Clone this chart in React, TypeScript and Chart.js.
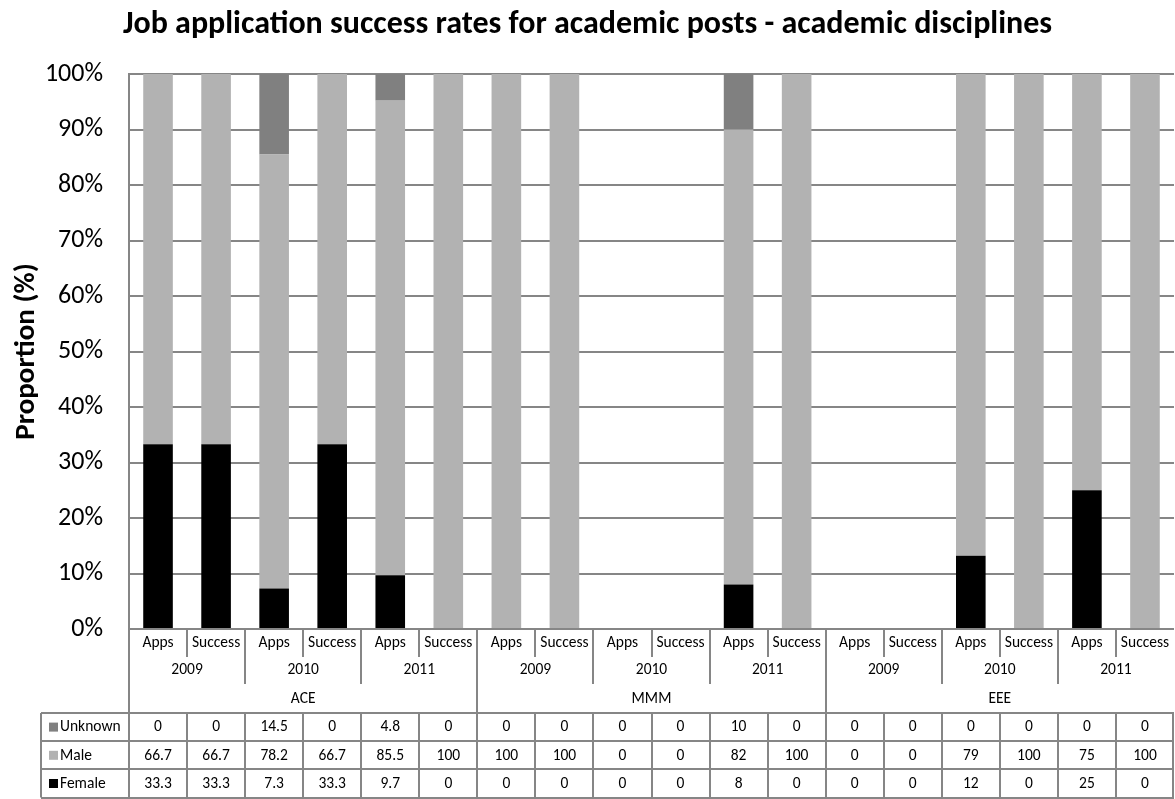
import React, { useEffect, useRef } from "react";
import { Chart, registerables } from "chart.js";

Chart.register(...registerables);

const TITLE = "Job application success rates for academic posts - academic disciplines";
const Y_TITLE = "Proportion (%)";

const disciplines = ["ACE", "MMM", "EEE"];
const years = ["2009", "2010", "2011"];
const measures = ["Apps", "Success"];

// Raw shares per column (Discipline > Year > Apps/Success)
const unknownValues = [0, 0, 14.5, 0, 4.8, 0, 0, 0, 0, 0, 10, 0, 0, 0, 0, 0, 0, 0];
const maleValues = [66.7, 66.7, 78.2, 66.7, 85.5, 100, 100, 100, 0, 0, 82, 100, 0, 0, 79, 100, 75, 100];
const femaleValues = [33.3, 33.3, 7.3, 33.3, 9.7, 0, 0, 0, 0, 0, 8, 0, 0, 0, 12, 0, 25, 0];

const yTicks = [0, 10, 20, 30, 40, 50, 60, 70, 80, 90, 100];

const COLORS = { Female: "#000000", Male: "#b2b2b2", Unknown: "#808080" };
const LINE = "#868686";
const FONT = "Calibri, Carlito, Lato, 'Open Sans', sans-serif";

const columns: { measure: string; year: string; discipline: string }[] = [];
disciplines.forEach((d) =>
  years.forEach((y) => measures.forEach((m) => columns.push({ measure: m, year: y, discipline: d })))
);

// 100% stacked: each column is normalised to its own total
const totals = columns.map((_, i) => unknownValues[i] + maleValues[i] + femaleValues[i]);
const pct = (arr: number[]) => arr.map((v, i) => (totals[i] ? (v / totals[i]) * 100 : 0));

const tableRows = [
  { label: "Unknown", values: unknownValues, color: COLORS.Unknown },
  { label: "Male", values: maleValues, color: COLORS.Male },
  { label: "Female", values: femaleValues, color: COLORS.Female },
];

const decorations = {
  id: "decorations",
  afterDraw(chart: any) {
    const ctx = chart.ctx as CanvasRenderingContext2D;
    const area = chart.chartArea;
    const xs = chart.scales.x;
    const n = columns.length;
    const step = (area.right - area.left) / n;
    const edge = (k: number) => area.left + k * step;
    const bottom = area.bottom;
    const tableTop = 713;
    const rowH = 28.2;
    const tableLeft = 41;

    ctx.save();
    // chart title
    ctx.fillStyle = "#000";
    ctx.textAlign = "center";
    ctx.textBaseline = "alphabetic";
    ctx.font = `bold 32px ${FONT}`;
    ctx.fillText(TITLE, chart.width / 2, 33);

    // y axis title
    ctx.save();
    ctx.translate(34, (area.top + area.bottom) / 2);
    ctx.rotate(-Math.PI / 2);
    ctx.font = `bold 29px ${FONT}`;
    ctx.fillText(Y_TITLE, 0, 0);
    ctx.restore();

    ctx.textBaseline = "middle";

    // category header separators
    ctx.strokeStyle = LINE;
    ctx.lineWidth = 2;
    for (let k = 0; k < n; k++) {
      let end = bottom + 28;
      if (k % 6 === 0) end = tableTop;
      else if (k % 2 === 0) end = bottom + 55;
      const x = Math.round(edge(k));
      ctx.beginPath();
      ctx.moveTo(x, bottom);
      ctx.lineTo(x, end);
      ctx.stroke();
    }

    // category header labels
    ctx.font = `15.5px ${FONT}`;
    ctx.fillStyle = "#000";
    columns.forEach((c, i) => {
      ctx.fillText(c.measure, xs.getPixelForValue(i), bottom + 14);
    });
    for (let p = 0; p < n / 2; p++) {
      ctx.fillText(years[p % 3], (edge(p * 2) + edge(p * 2 + 2)) / 2, bottom + 41);
    }
    disciplines.forEach((d, g) => {
      ctx.fillText(d, (edge(g * 6) + edge(g * 6 + 6)) / 2, bottom + 70);
    });

    // data table grid
    const tableBottom = tableTop + rowH * tableRows.length;
    ctx.beginPath();
    for (let r = 0; r <= tableRows.length; r++) {
      const y = Math.round(tableTop + r * rowH);
      ctx.moveTo(tableLeft, y);
      ctx.lineTo(area.right, y);
    }
    ctx.moveTo(tableLeft, tableTop);
    ctx.lineTo(tableLeft, tableBottom);
    for (let k = 0; k <= n; k++) {
      const x = Math.round(Math.min(edge(k), area.right - 1));
      ctx.moveTo(x, tableTop);
      ctx.lineTo(x, tableBottom);
    }
    ctx.stroke();

    // data table contents
    tableRows.forEach((row, r) => {
      const cy = tableTop + r * rowH + rowH / 2;
      ctx.fillStyle = row.color;
      ctx.fillRect(49, cy - 4.5, 9, 9);
      ctx.fillStyle = "#000";
      ctx.textAlign = "left";
      ctx.font = `15.5px ${FONT}`;
      ctx.fillText(row.label, 60, cy + 0.5);
      ctx.textAlign = "center";
      ctx.font = `15.5px ${FONT}`;
      row.values.forEach((v, i) => {
        ctx.fillText(String(v), xs.getPixelForValue(i), cy + 0.5);
      });
    });
    ctx.restore();
  },
};

export default function App() {
  const canvasRef = useRef<HTMLCanvasElement | null>(null);

  useEffect(() => {
    document.body.style.margin = "0";
    const canvas = canvasRef.current;
    if (!canvas) return;
    const chart = new Chart(canvas, {
      type: "bar",
      data: {
        labels: columns.map((c) => `${c.discipline} ${c.year} ${c.measure}`),
        datasets: [
          { label: "Female", data: pct(femaleValues), backgroundColor: COLORS.Female },
          { label: "Male", data: pct(maleValues), backgroundColor: COLORS.Male },
          { label: "Unknown", data: pct(unknownValues), backgroundColor: COLORS.Unknown },
        ],
      },
      options: {
        responsive: false,
        animation: false,
        devicePixelRatio: 1,
        layout: { padding: { top: 74, bottom: 170, left: 0, right: 1 } },
        datasets: { bar: { categoryPercentage: 1, barPercentage: 0.51 } },
        plugins: { legend: { display: false }, title: { display: false }, tooltip: { enabled: false } },
        scales: {
          x: { stacked: true, display: false },
          y: {
            stacked: true,
            min: 0,
            max: 100,
            afterFit: (scale: any) => {
              scale.width = 129;
            },
            afterBuildTicks: (scale: any) => {
              scale.ticks = yTicks.map((v) => ({ value: v }));
            },
            ticks: {
              padding: 26,
              color: "#000",
              font: { family: FONT, size: 26 },
              callback: (v: any) => `${v}%`,
            },
            grid: { color: LINE, lineWidth: 2, drawTicks: false },
            border: { color: LINE, width: 2 },
          },
        },
      },
      plugins: [decorations],
    });
    return () => chart.destroy();
  }, []);

  return (
    <div style={{ width: 1175, height: 799 }}>
      <canvas ref={canvasRef} width={1175} height={799} style={{ display: "block" }} />
    </div>
  );
}
